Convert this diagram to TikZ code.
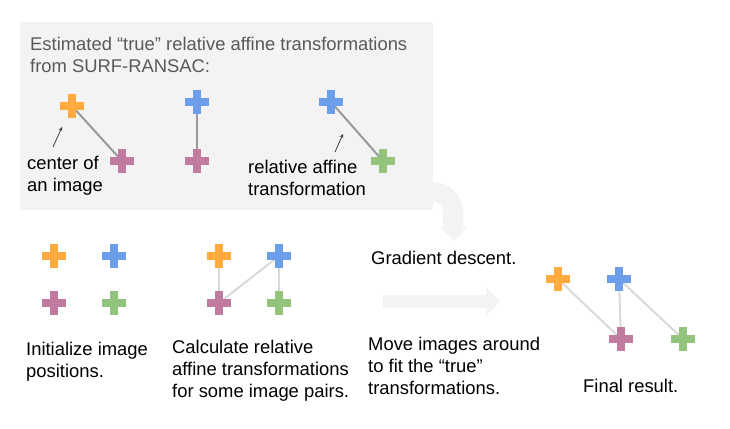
\documentclass[tikz,border=0pt]{standalone}
\usepackage{fontspec}
\setmainfont{Liberation Sans}
\usetikzlibrary{backgrounds}

\definecolor{plusorange}{HTML}{FFAB40}
\definecolor{plusblue}{HTML}{6D9EEB}
\definecolor{pluspink}{HTML}{C27BA0}
\definecolor{plusgreen}{HTML}{93C47D}
\definecolor{panelgray}{HTML}{F3F3F3}
\definecolor{titlegray}{HTML}{595959}

\begin{document}
\begin{tikzpicture}[x=1pt, y=-1pt]
    % Define styles
    \tikzset{cross/.style={minimum size=24pt, inner sep=0pt, path picture={
        \fill[#1] ([xshift=-12pt,yshift=-4pt]path picture bounding box.center) rectangle ([xshift=12pt,yshift=4pt]path picture bounding box.center);
        \fill[#1] ([xshift=-4pt,yshift=-12pt]path picture bounding box.center) rectangle ([xshift=4pt,yshift=12pt]path picture bounding box.center);}}}
    \tikzstyle{txt} = [anchor=base west, inner sep=0pt, align=left, font=\fontsize{18.4}{22}\selectfont]
    \tikzstyle{title} = [txt, text=titlegray, font=\fontsize{18.4}{21}\selectfont]
    \tikzstyle{truepair} = [line width=2pt, gray!80]
    \tikzstyle{pair} = [line width=2pt, black!15]
    \tikzstyle{pointer} = [->, >=stealth, line width=0.8pt, black!75]

    \useasboundingbox (0,0) rectangle (730,428);

    % PANEL (anchors are on the last line's baseline)
    \begin{scope}[on background layer]
        \fill[panelgray] (20,22) rectangle (433,210);
        \draw[panelgray, line width=20pt] (425,192) -- (433,192) .. controls (444,192) and (453,201) .. (453,212) -- (453,228);
        \fill[panelgray] (440,227) -- (468,227) -- (454,241) -- cycle;
    \end{scope}
    \node (title) [title] at (30,72) {Estimated “true” relative affine transformations\\from SURF-RANSAC:};

    \node (true1_orange) [cross=plusorange] at (72,106) {};
    \node (true1_pink) [cross=pluspink] at (122,161) {};
    \node (true2_blue) [cross=plusblue] at (197,102) {};
    \node (true2_pink) [cross=pluspink] at (197,161) {};
    \node (true3_blue) [cross=plusblue] at (331,102) {};
    \node (true3_green) [cross=plusgreen] at (383,161) {};

    \node (center_text) [txt] at (27,191) {center of\\an image};
    \node (affine_text) [txt] at (248,195) {relative affine\\transformation};
    \coordinate (center_tail) at (53,147);
    \coordinate (center_tip) at (62,127);
    \coordinate (affine_tail) at (335,152);
    \coordinate (affine_tip) at (343,134);

    % INIT
    \node (init_orange) [cross=plusorange] at (54,256) {};
    \node (init_blue) [cross=plusblue] at (114,256) {};
    \node (init_pink) [cross=pluspink] at (54,303) {};
    \node (init_green) [cross=plusgreen] at (114,303) {};
    \node (init_text) [txt] at (26,377) {Initialize image\\positions.};

    % CALCULATE
    \node (calc_orange) [cross=plusorange] at (219,256) {};
    \node (calc_blue) [cross=plusblue] at (279,256) {};
    \node (calc_pink) [cross=pluspink] at (219,303) {};
    \node (calc_green) [cross=plusgreen] at (279,303) {};
    \node (calc_text) [txt] at (172,397) {Calculate relative\\affine transformations\\for some image pairs.};

    % GRADIENT DESCENT
    \node (grad_text) [txt] at (371,264) {Gradient descent.};
    \fill[panelgray] (383,295) rectangle (487,308);
    \fill[panelgray] (486,287) -- (500,301.5) -- (486,316) -- cycle;
    \node (move_text) [txt] at (368,394) {Move images around\\to fit the “true”\\transformations.};

    % FINAL
    \node (final_orange) [cross=plusorange] at (558,279) {};
    \node (final_blue) [cross=plusblue] at (619,279) {};
    \node (final_pink) [cross=pluspink] at (621,339) {};
    \node (final_green) [cross=plusgreen] at (683,339) {};
    \node (final_text) [txt] at (583,392) {Final result.};

    % CONNECTIONS
    \begin{scope}[on background layer]
        \draw[truepair] (true1_orange.center) -- (true1_pink.center);
        \draw[truepair] (true2_blue.center) -- (true2_pink.center);
        \draw[truepair] (true3_blue.center) -- (true3_green.center);

        \draw[pair] (calc_orange.center) -- (calc_pink.center);
        \draw[pair] (calc_pink.center) -- (calc_blue.center);
        \draw[pair] (calc_blue.center) -- (calc_green.center);

        \draw[pair] (final_orange.center) -- (final_pink.center);
        \draw[pair] (final_blue.center) -- (final_pink.center);
        \draw[pair] (final_blue.center) -- (final_green.center);
    \end{scope}

    \draw[pointer] (center_tail) -- (center_tip);
    \draw[pointer] (affine_tail) -- (affine_tip);

\end{tikzpicture}
\end{document}
